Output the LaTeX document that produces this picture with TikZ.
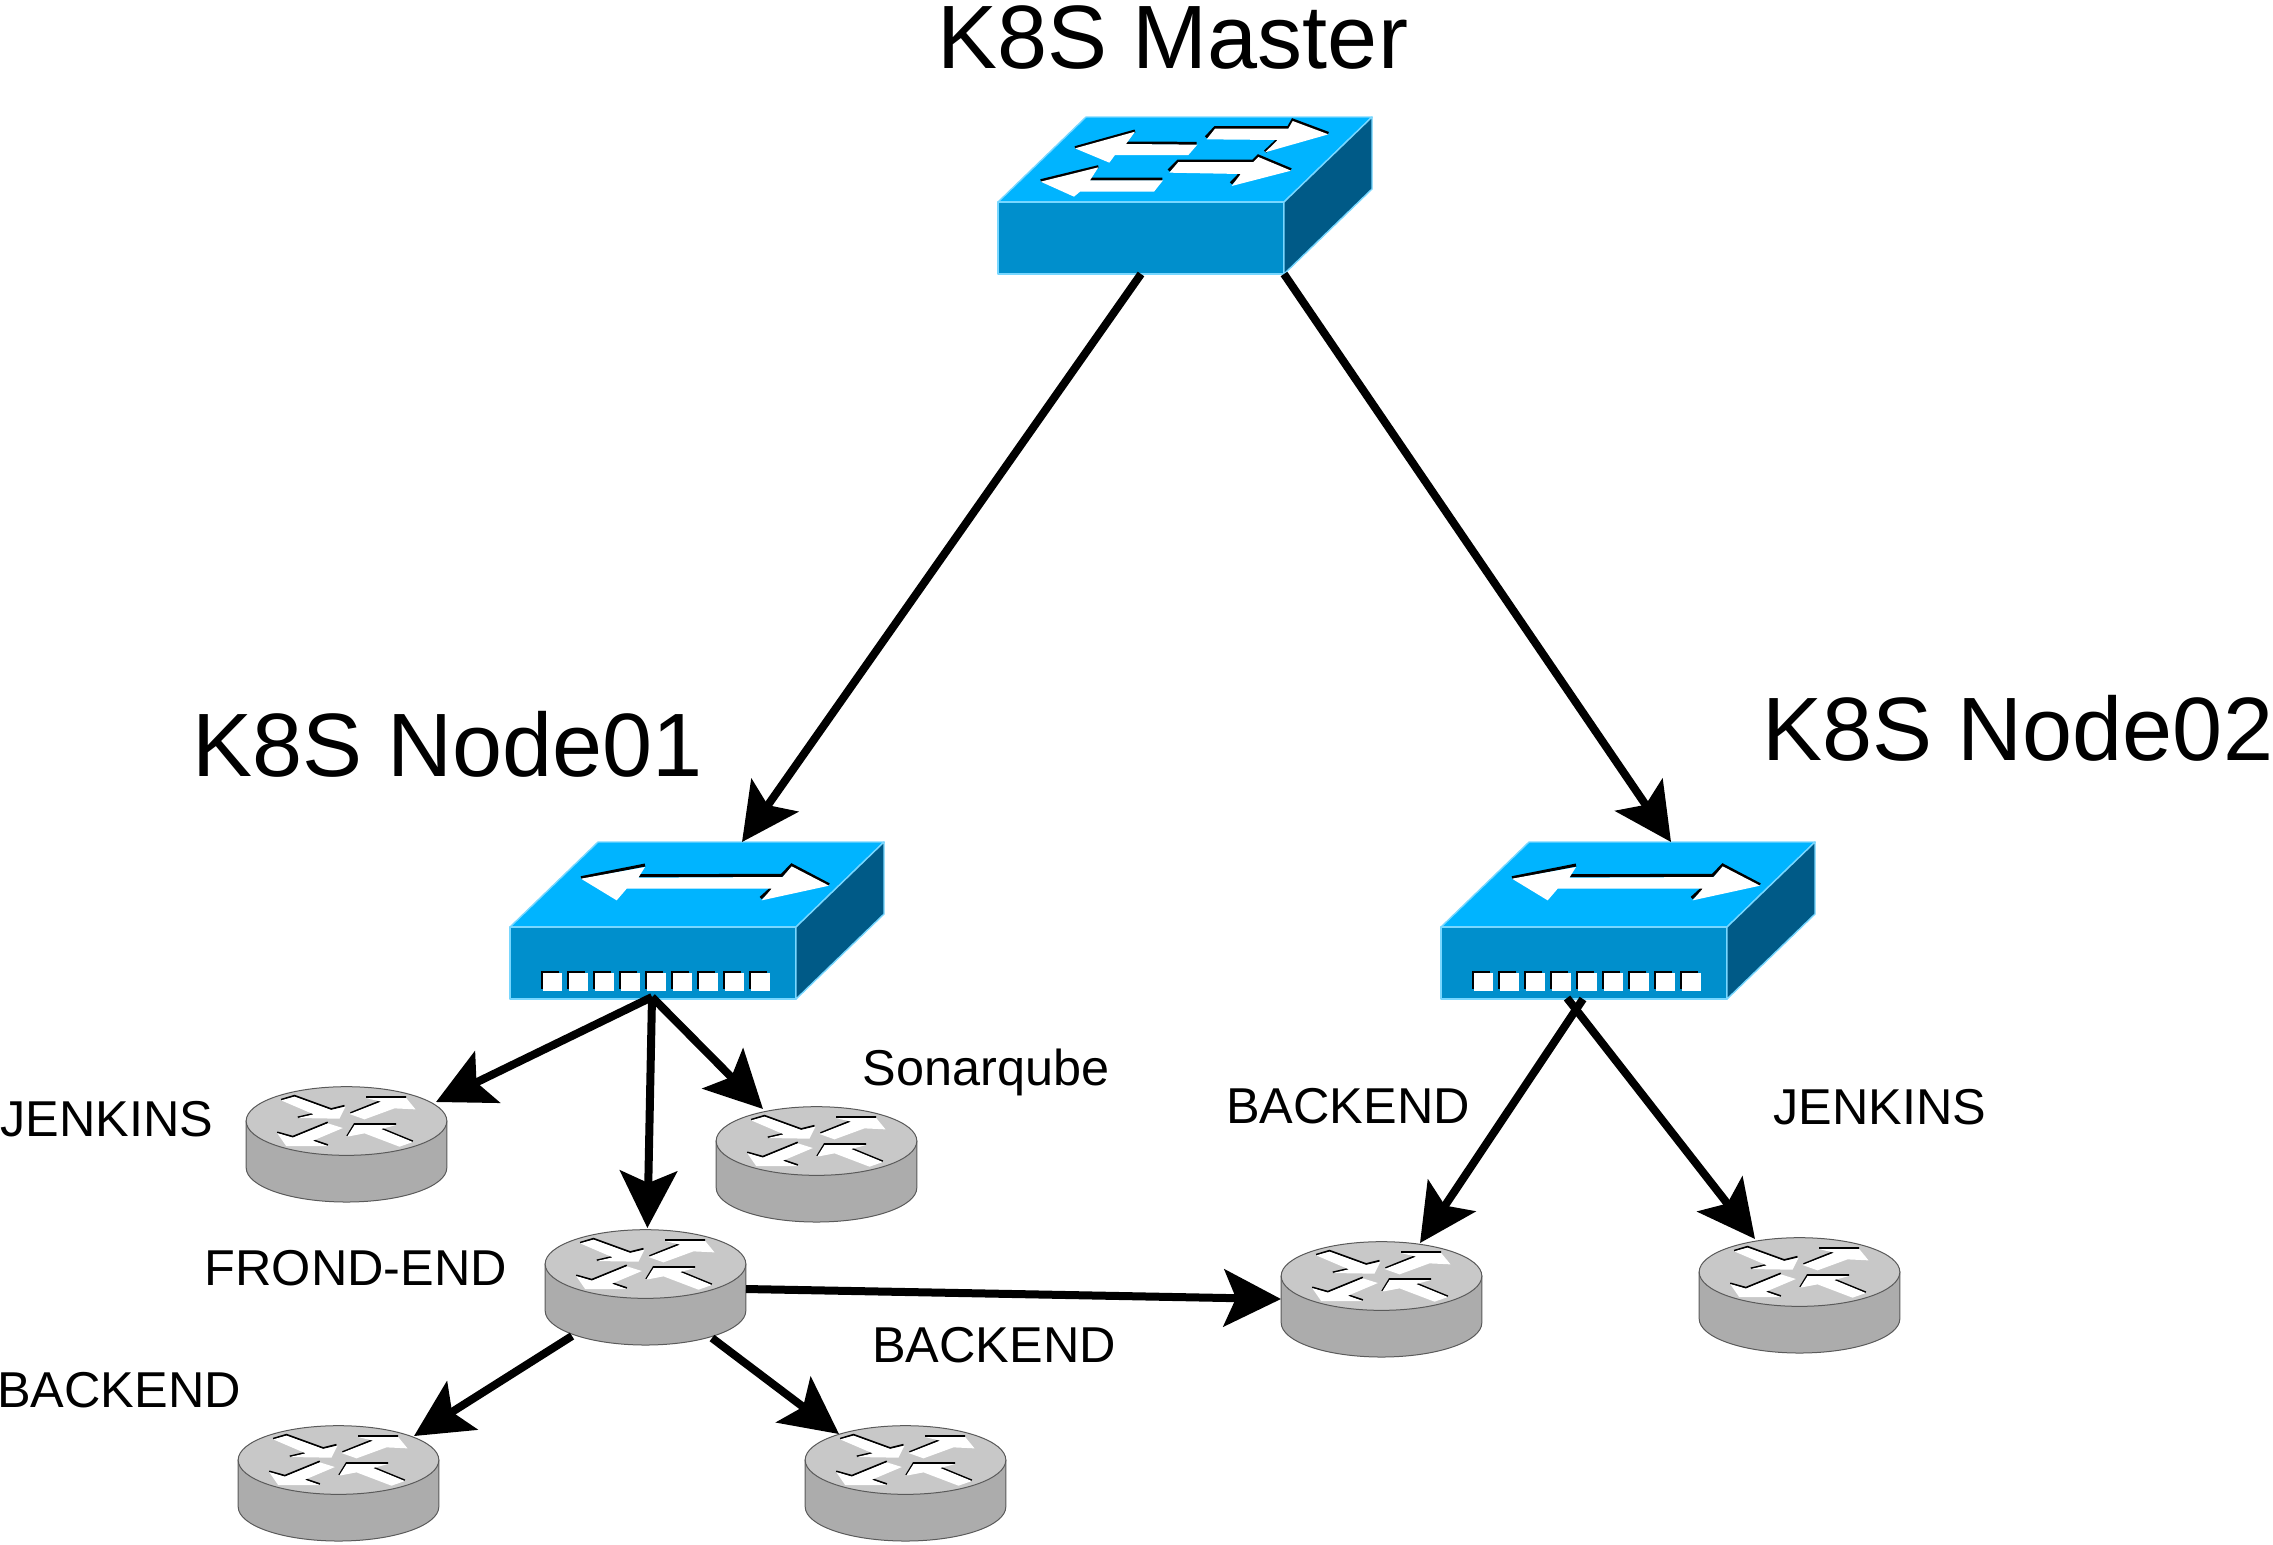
\documentclass[tikz,border=0pt]{standalone}
\usepackage{fontspec}
\setmainfont{Liberation Sans}
\usetikzlibrary{arrows.meta}
\definecolor{swtop}{RGB}{0,180,255}
\definecolor{swfront}{RGB}{0,143,204}
\definecolor{swside}{RGB}{0,90,135}
\definecolor{swedge}{RGB}{120,215,255}
\definecolor{rttop}{RGB}{200,200,200}
\definecolor{rtside}{RGB}{172,172,172}
\definecolor{rtedge}{RGB}{90,90,90}
\tikzset{
  x=0.5pt,y=-0.5pt,
  big/.style={font=\fontsize{45}{50}\selectfont,anchor=base,inner sep=0pt},
  small/.style={font=\fontsize{25.2}{28}\selectfont,anchor=base,inner sep=0pt},
  link/.style={line width=4pt,-{Stealth[length=28.5pt,width=28.5pt,inset=6pt]}},
  iconbox/.style={inner sep=0pt,outer sep=0pt},
  swface/.style={draw=swedge,line width=0.7pt,line join=round},
  glyphfill/.style={fill=white},
  glyphedge/.style={draw=black},
}
% zoom coordinates: 1 unit = 1/6 pt
\newcommand{\swbody}{%
  \filldraw[swface,fill=swtop] (0,0)--(88,-85)--(374,-85)--(286,0)--cycle;
  \filldraw[swface,fill=swfront] (0,0) rectangle (286,72);
  \filldraw[swface,fill=swside] (286,0)--(374,-85)--(374,-13)--(286,72)--cycle;
}
\newcommand{\masterswitch}[2]{%
  \begin{scope}[shift={(#1,#2)}]
  \swbody
  \begin{scope}[x=0.16667pt,y=-0.16667pt,shift={(-54,-306)}]
    \draw[glyphedge,line width=1.5pt] (285,143)--(465,93) (438,129)--(650,130);
    \draw[glyphedge,line width=1.5pt] (678,112)--(705,83)--(925,83)--(938,60)--(1045,100) (855,155)--(893,119);
    \draw[glyphedge,line width=1.5pt] (182,242)--(355,200) (330,237)--(547,237);
    \draw[glyphedge,line width=1.5pt] (566,212)--(595,183)--(820,183)--(835,168)--(933,209) (753,250)--(782,220);
    \fill[glyphfill] (285,145)--(465,95)--(438,132)--(652,134)--(625,165)--(405,165)--(388,188)--cycle;
    \fill[glyphfill] (680,118)--(705,86)--(925,86)--(938,63)--(1045,103)--(855,157)--(893,120)--cycle;
    \fill[glyphfill] (182,245)--(355,202)--(330,241)--(549,241)--(522,275)--(300,275)--(282,290)--cycle;
    \fill[glyphfill] (568,218)--(595,186)--(820,186)--(835,171)--(933,212)--(755,258)--(782,222)--cycle;
  \end{scope}
  \end{scope}}
\newcommand{\portswitch}[2]{%
  \begin{scope}[shift={(#1,#2)}]
  \swbody
  \begin{scope}[x=0.16667pt,y=-0.16667pt,shift={(-60,-320)}]
    \draw[glyphedge,line width=1.5pt] (273,172)--(465,134) (445,166)--(875,165)--(905,134)--(1017,193) (812,233)--(845,203);
    \fill[glyphfill] (273,175)--(465,140)--(445,172)--(878,170)--(905,138)--(1017,196)--(815,240)--(845,205)--(410,205)--(380,240)--cycle;
    \foreach \k in {0,...,8}{
      \fill[black] ({154+78*\k},452) rectangle ++(54,54);
      \fill[white] ({160+78*\k},458) rectangle ++(55,54);
    }
  \end{scope}
  \end{scope}}
\newcommand{\routericon}[2]{%
  \begin{scope}[shift={(#1,#2)},x=0.16667pt,y=-0.16667pt,shift={(-346,-160)}]
    \filldraw[draw=rtedge,fill=rtside,line width=0.5pt] (45,160)--(45,300) .. controls (45,357) and (180,403) .. (346,403) .. controls (512,403) and (647,357) .. (647,300)--(647,160)--cycle;
    \filldraw[draw=rtedge,fill=rttop,line width=0.5pt] (45,160) .. controls (45,103) and (180,57) .. (346,57) .. controls (512,57) and (647,103) .. (647,160) .. controls (647,217) and (512,263) .. (346,263) .. controls (180,263) and (45,217) .. (45,160) -- cycle;
    \draw[glyphedge,line width=0.9pt] (150,96)--(190,84)--(300,124)--(340,114) (200,149)--(248,138);
    \draw[glyphedge,line width=0.9pt] (405,88)--(525,88) (358,136)--(450,99);
    \draw[glyphedge,line width=0.9pt] (138,194)--(185,207)--(290,164) (245,217)--(290,232);
    \draw[glyphedge,line width=0.9pt] (348,205)--(370,169)--(495,169) (450,182)--(545,221);
    \fill[glyphfill] (150,98)--(190,87)--(300,127)--(343,117)--(325,153)--(200,151)--(248,140)--cycle;
    \fill[glyphfill] (405,91)--(525,91)--(553,125)--(490,122)--(400,155)--(355,139)--(450,102)--cycle;
    \fill[glyphfill] (138,196)--(185,210)--(290,167)--(335,181)--(245,219)--(290,235)--(165,235)--cycle;
    \fill[glyphfill] (348,207)--(370,172)--(495,172)--(450,184)--(545,223)--(505,237)--(400,197)--cycle;
  \end{scope}}
\begin{document}
\begin{tikzpicture}
\useasboundingbox (0,0) rectangle (2273,1544);
% icons
\masterswitch{998}{202}
\portswitch{510}{927}
\portswitch{1441}{927}
\routericon{346.5}{1121}
\routericon{816.5}{1141}
\routericon{645.5}{1264}
\routericon{338.5}{1460}
\routericon{905.5}{1460}
\routericon{1381.5}{1276}
\routericon{1799.5}{1272}
% invisible nodes that carry the icon boxes
\node[iconbox,minimum width=187pt,minimum height=78.5pt] (master) at (1185,195.5) {};
\node[iconbox,minimum width=187pt,minimum height=78pt] (node1) at (697,920) {};
\node[iconbox,minimum width=187pt,minimum height=78pt] (node2) at (1628,920) {};
\node[iconbox,minimum width=100pt,minimum height=58pt] (jenk1) at (346,1144) {};
\node[iconbox,minimum width=100pt,minimum height=58pt] (sonar) at (816,1164) {};
\node[iconbox,minimum width=100pt,minimum height=58pt] (front) at (645,1287) {};
\node[iconbox,minimum width=100pt,minimum height=58pt] (back1) at (338,1483) {};
\node[iconbox,minimum width=100pt,minimum height=58pt] (back2) at (905,1483) {};
\node[iconbox,minimum width=100pt,minimum height=58pt] (back3) at (1381,1299) {};
\node[iconbox,minimum width=100pt,minimum height=58pt] (jenk2) at (1799,1295) {};
% connectors (offsets in pt, y up)
\draw[link] ([xshift=-22pt]master.south) -- ([xshift=22.5pt]node1.north);
\draw[link] ([xshift=49.5pt]master.south) -- ([xshift=21.5pt]node2.north);
\draw[link] ([shift={(-22.5pt,0.5pt)}]node1.south) -- ([shift={(45pt,-8pt)}]jenk1.north);
\draw[link] ([shift={(-22.5pt,0.5pt)}]node1.south) -- ([shift={(1.2pt,0.5pt)}]front.north);
\draw[link] ([shift={(-22.5pt,0.5pt)}]node1.south) -- ([shift={(-26.5pt,-1.5pt)}]sonar.north);
\draw[link] ([shift={(-22.5pt,-0.5pt)}]node2.south) -- ([shift={(19.5pt,-1pt)}]back3.north);
\draw[link] ([xshift=-30.5pt]node2.south) -- ([shift={(-22pt,-1pt)}]jenk2.north);
\draw[link] ([shift={(0.5pt,-1pt)}]front.east) -- (back3.west);
\draw[link] ([shift={(-36.5pt,4.5pt)}]front.south) -- ([shift={(38pt,-5.5pt)}]back1.north);
\draw[link] ([shift={(33.5pt,3.5pt)}]front.south) -- ([shift={(-33pt,-4.5pt)}]back2.north);
% labels
\node[big] (tmaster) at (1173,68) {K8S Master};
\node[big] (tnode1) at (448,776) {K8S Node01};
\node[big] (tnode2) at (2018,760) {K8S Node02};
\node[small] (ljenk1) at (107,1136) {JENKINS};
\node[small] (lsonar) at (986,1085) {Sonarqube};
\node[small] (lfront) at (356,1285) {FROND-END};
\node[small] (lback1) at (119,1407) {BACKEND};
\node[small] (lback2) at (994,1362) {BACKEND};
\node[small] (lback3) at (1348,1123) {BACKEND};
\node[small] (ljenk2) at (1880,1124) {JENKINS};
\end{tikzpicture}
\end{document}
